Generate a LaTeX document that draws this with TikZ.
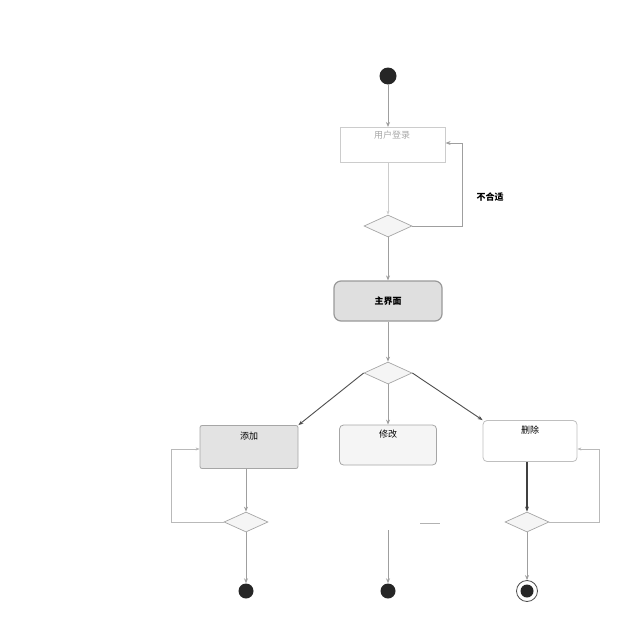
\documentclass[tikz,border=0pt]{standalone}
\usepackage{fontspec}
\newfontfamily\cjk{Noto Sans CJK SC}
\usetikzlibrary{arrows.meta,shapes.geometric}
\begin{document}
\begin{tikzpicture}[x=1pt,y=-1pt,
  every node/.style={font=\cjk\fontsize{9}{10}\selectfont},
  flow/.style={draw=gray!75,line width=0.8pt,-{Stealth[length=5pt,width=4pt]}},
  loop/.style={draw=gray!55,line width=0.6pt,-{Stealth[length=4pt,width=3pt]}},
  act/.style={draw=gray!70,line width=0.8pt,rounded corners=4pt,minimum height=38pt,inner sep=2pt},
  dec/.style={diamond,draw=gray!70,line width=0.7pt,fill=gray!8,minimum width=48pt,minimum height=22pt,inner sep=0pt,aspect=2.3},
  startnode/.style={circle,fill=black!85,minimum size=17pt,inner sep=0pt},
  endnode/.style={circle,fill=black!85,minimum size=15pt,inner sep=0pt},
  endring/.style={circle,draw=black!70,line width=0.8pt,minimum size=21pt,inner sep=0pt}]
\useasboundingbox (0,0) rectangle (640,640);

\node[startnode] (s) at (388,76) {};
\node[draw=gray!40,line width=0.6pt,minimum width=105pt,minimum height=35pt,inner sep=0pt,anchor=north west] (login) at (340,127) {};
\node[text=gray!70] at (392,135) {用户登录};
\node[dec] (d1) at (388,226) {};
\coordinate (c1) at (462,226);
\coordinate (c2) at (462,143);
\node[font=\cjk\bfseries\fontsize{9}{10}\selectfont] (lbl) at (490,197) {不合适};

\node[act,fill=gray!25,draw=gray!80,line width=1.2pt,minimum width=108pt,minimum height=40pt,rounded corners=7pt] (main) at (388,301) {\textbf{主界面}};
\node[dec] (d2) at (388,373) {};

\node[act,fill=gray!22,minimum width=98pt,minimum height=43pt,rounded corners=2pt] (b1) at (249,447) {};
\node at (249,436) {添加};
\node[act,fill=gray!8,minimum width=97pt,minimum height=40pt] (b2) at (388,445) {};
\node at (388,434) {修改};
\node[act,fill=white,draw=gray!50,minimum width=94pt,minimum height=41pt] (b3) at (530,441) {};
\node at (530,430) {删除};

\node[dec,minimum width=44pt,minimum height=20pt] (d3) at (246,522) {};
\node[dec,minimum width=44pt,minimum height=20pt] (d5) at (527,522) {};

\node[endnode] (e1) at (246,591) {};
\node[endnode] (e2) at (388,591) {};
\node[endnode,minimum size=13pt] (e3) at (527,591) {};
\node[endring] (e3r) at (527,591) {};

\coordinate (m1) at (388,530);
\coordinate (mdash1) at (420,523);
\coordinate (mdash2) at (440,523);

% connectors
\draw[flow] (s) -- (s |- login.north);
\draw[draw=gray!40,line width=0.5pt,-{Stealth[length=4pt]}] (d1 |- login.south) -- (d1);
\draw[flow] (d1.east) -- (c1) -- (c2) -- (login.east |- c2);
\draw[flow] (d1) -- (main);
\draw[flow] (main) -- (d2);
\draw[line width=0.9pt,draw=black!70,-{Stealth[length=5pt]}] (d2.west) -- (b1.north east);
\draw[flow] (d2.south) -- (b2.north);
\draw[line width=0.9pt,draw=black!70,-{Stealth[length=5pt]}] (d2.east) -- (b3.north west);

\draw[flow] (d3 |- b1.south) -- (d3);
\draw[flow] (d3) -- (e1);
\draw[loop] (d3.west) -- ++(-52,0) |- ([yshift=-2pt]b1.west);

\draw[flow] (m1) -- (e2);
\draw[draw=gray!60,line width=0.8pt] (mdash1) -- (mdash2);

\draw[line width=1.4pt,draw=black!75,-{Stealth[length=5pt]}] (d5 |- b3.south) -- (d5);
\draw[flow] (d5) -- (e3r);
\draw[loop] (d5.east) -- ++(50,0) |- ([yshift=-8pt]b3.east);
\end{tikzpicture}
\end{document}
